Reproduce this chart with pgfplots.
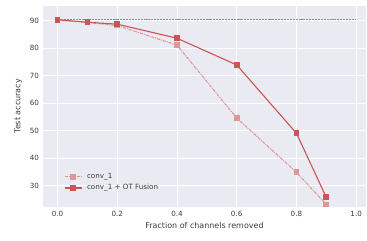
\documentclass[border=0pt]{standalone}
\usepackage{pgfplots}
\pgfplotsset{compat=1.18}
\usepackage{fontspec}
\setmainfont{DejaVu Sans}
\definecolor{bgc}{RGB}{234,234,242}
\definecolor{otred}{RGB}{203,84,87}
\definecolor{lightred}{RGB}{222,150,154}
\definecolor{txt}{RGB}{60,60,60}
\definecolor{dgray}{RGB}{140,140,145}
\begin{document}
\begin{tikzpicture}
\begin{axis}[
  scale only axis,
  width=323bp, height=200.7bp,
  xmin=-0.0486, xmax=1.033,
  ymin=22.4, ymax=95.3,
  axis background/.style={fill=bgc},
  axis line style={draw=none},
  grid=major,
  major grid style={draw=white, line width=0.9bp},
  tick style={draw=none},
  xtick={0,0.2,0.4,0.6,0.8,1.0},
  xticklabels={0.0,0.2,0.4,0.6,0.8,1.0},
  ytick={30,40,50,60,70,80,90},
  tick label style={font=\fontsize{7.2}{8}\selectfont, text=txt},
  /pgf/number format/assume math mode=true,
  xticklabel style={yshift=-1bp},
  yticklabel style={xshift=-0.5bp},
  xlabel={Fraction of channels removed},
  ylabel={Test accuracy},
  label style={font=\fontsize{8}{9}\selectfont, text=txt},
  xlabel style={yshift=1bp},
  ylabel style={yshift=1bp},
  legend style={at={(0.055,0.055)}, anchor=south west, fill=none, draw=none,
    font=\fontsize{7.2}{8}\selectfont, text=txt, row sep=0.5bp},
  legend cell align=left,
]
\addplot[dgray, dash pattern=on 2.2bp off 0.9bp, line width=1.1bp, forget plot] coordinates {(0,90.3) (1.0,90.3)};
\addplot[lightred, line width=1.1bp, dash pattern=on 3bp off 1bp on 1bp off 1bp, mark=square*, mark size=2.3bp, mark options={solid, draw=lightred, fill=lightred}] coordinates {
(0.0,90.3) (0.1,89.3) (0.2,88.2) (0.4,81.1) (0.6,54.6) (0.8,34.9) (0.9,23.2)};
\addlegendentry{\hspace{3bp}conv\_1}
\addplot[otred, line width=1.1bp, mark=square*, mark size=2.3bp, mark options={solid, draw=otred, fill=otred}] coordinates {
(0.0,90.3) (0.1,89.4) (0.2,88.7) (0.4,83.6) (0.6,73.9) (0.8,49.1) (0.9,25.8)};
\addlegendentry{\hspace{3bp}conv\_1 + OT Fusion}
\end{axis}
\path (-43bp,-34.3bp) rectangle (324bp,206.7bp);
\end{tikzpicture}
\end{document}
